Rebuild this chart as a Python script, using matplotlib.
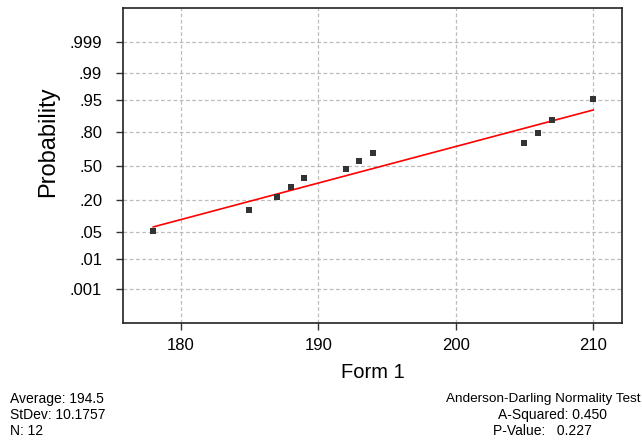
import numpy as np
import matplotlib
matplotlib.use("Agg")
import matplotlib.pyplot as plt
from statistics import NormalDist

plt.rcParams['font.family'] = ['Liberation Sans', 'DejaVu Sans']

# Data
values = [178, 185, 187, 188, 189, 192, 193, 194, 205, 206, 207, 210]
probs = [0.052, 0.134, 0.218, 0.300, 0.385, 0.467, 0.548, 0.627, 0.715, 0.794, 0.875, 0.952]
prob_ticks = [0.001, 0.01, 0.05, 0.20, 0.50, 0.80, 0.95, 0.99, 0.999]
prob_labels = [".001", ".01", ".05", ".20", ".50", ".80", ".95", ".99", ".999"]
x_ticks = [180, 190, 200, 210]
fit_mean = 194.7
fit_sd = 10.94
stats_left = ["Average: 194.5", "StDev: 10.1757", "N: 12"]
stats_right = ["Anderson-Darling Normality Test", "A-Squared: 0.450", "P-Value:   0.227"]

nd = NormalDist()
z = [nd.inv_cdf(p) for p in probs]
zt = [nd.inv_cdf(p) for p in prob_ticks]

fig = plt.figure(figsize=(6.42, 4.43), dpi=100)
ax = fig.add_axes([123/642, 1 - 323/443, (622-123)/642, (323-8)/443])

ax.set_xlim(175.8, 212.1)
ax.set_ylim(-3.93, 3.95)

ax.grid(True, linestyle=(0, (3, 2)), color='#bdbdbd', linewidth=0.9)
ax.set_axisbelow(True)

xl = np.array([min(values), max(values)])
zl = (xl - fit_mean) / fit_sd
ax.plot(xl, zl, color='#ff0000', linewidth=1.2, zorder=3)
ax.scatter(values, z, marker='s', s=13, color='#333333', zorder=4, linewidths=0)

ax.set_yticks(zt)
ax.set_yticklabels(prob_labels)
ax.set_xticks(x_ticks)
ax.tick_params(axis='both', labelsize=12, length=5, width=1, colors='#333333', labelcolor='black')
ax.tick_params(axis='y', pad=10)
ax.tick_params(axis='x', pad=6)
for s in ax.spines.values():
    s.set_linewidth(1.2)
    s.set_color('#222222')

ax.set_ylabel("Probability", fontsize=17)
ax.yaxis.set_label_coords(-0.128, (323 - 142) / 315)
ax.set_xlabel("Form 1", fontsize=14.5)
ax.xaxis.set_label_coords(0.5, -(372 - 323) / 315)
ax.xaxis.label.set_va('center')

for i, t in enumerate(stats_left):
    fig.text(10/642, 1 - (399 + 16*i)/443, t, fontsize=10, va='center', ha='left')
fig.text(641/642, 1 - 399/443, stats_right[0], fontsize=9.7, va='center', ha='right')
fig.text(498/642, 1 - 415/443, stats_right[1], fontsize=10, va='center', ha='left')
fig.text(493/642, 1 - 431/443, stats_right[2], fontsize=10, va='center', ha='left')

fig.savefig("out.png", dpi=100)
